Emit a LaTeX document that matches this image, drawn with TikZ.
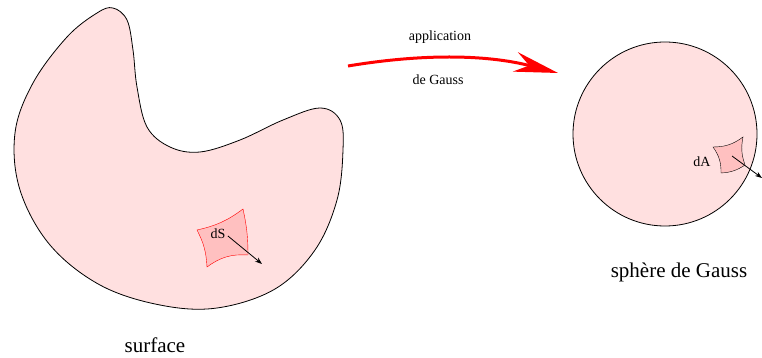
\documentclass[tikz,border=0pt]{standalone}
\usepackage{fontspec}
\setmainfont{Liberation Serif}
\usetikzlibrary{arrows.meta}
\definecolor{skinpink}{RGB}{255,224,224}
\definecolor{patchpink}{RGB}{255,192,192}
\tikzset{
  outline/.style={draw=black, thick, fill=skinpink},
  patch/.style={fill=patchpink},
  normal/.style={-{Stealth[length=7pt,width=5pt]}, thick},
  biglabel/.style={font=\fontsize{21}{25}\selectfont},
  smalllabel/.style={font=\fontsize{14}{17}\selectfont}
}
\begin{document}
\begin{tikzpicture}[x=1pt,y=-1pt]
            \useasboundingbox (0,0) rectangle (762,358);

            % surface (left)
            \draw[outline] plot[smooth cycle, tension=0.6] coordinates {
            (113,8) (127,20) (133,50) (137,87) (147,127) (170,147) (200,152)
            (240,140) (283,120) (320,108) (340,120) (343,150) (337,200)
            (315,250) (275,289) (217,308) (160,305) (100,285) (50,245)
            (20,190) (15,133) (33,83) (67,37) (97,13)};
            \draw[patch, draw=red] (197,230) to[bend right=12] (243,209)
            to[bend left=6] (248,255) to[bend right=20] (207,267)
            to[bend right=12] cycle;
            \node[smalllabel] (dS) at (218,234) {dS};
            \coordinate (dStip) at (262,264);
            \draw[normal] (dS.east) ++(-1,2) coordinate (dSfoot) -- (dStip);
            \node[biglabel] (surface) at (155,345) {surface};

            % sphere (right)
            \draw[outline] (665,134) circle (92);
            \draw[patch, draw=black] (713,147) to[bend right=18] (743,137)
            to[bend right=15] (745,165) to[bend left=15] (721,173)
            to[bend right=18] cycle;
            \node[smalllabel] (dA) at (702,162) {dA};
            \coordinate (dAfoot) at (732,156); \coordinate (dAtip) at (762,178);
            \draw[normal] (dAfoot) -- (dAtip);
            \node[biglabel] (sphere) at (679,272) {sphère de Gauss};

            % Gauss map (middle)
            \coordinate (mapstart) at (348,66); \coordinate (mapend) at (558,73);
            \draw[red, line width=3pt, -{Stealth[length=44pt,width=20pt]}]
            (mapstart) .. controls (420,54) and (485,54) .. (mapend);
            \node[smalllabel] (app) at (440,37) {application};
            \node[smalllabel] (gauss) at (438,80) {de Gauss};
        \end{tikzpicture}
\end{document}
